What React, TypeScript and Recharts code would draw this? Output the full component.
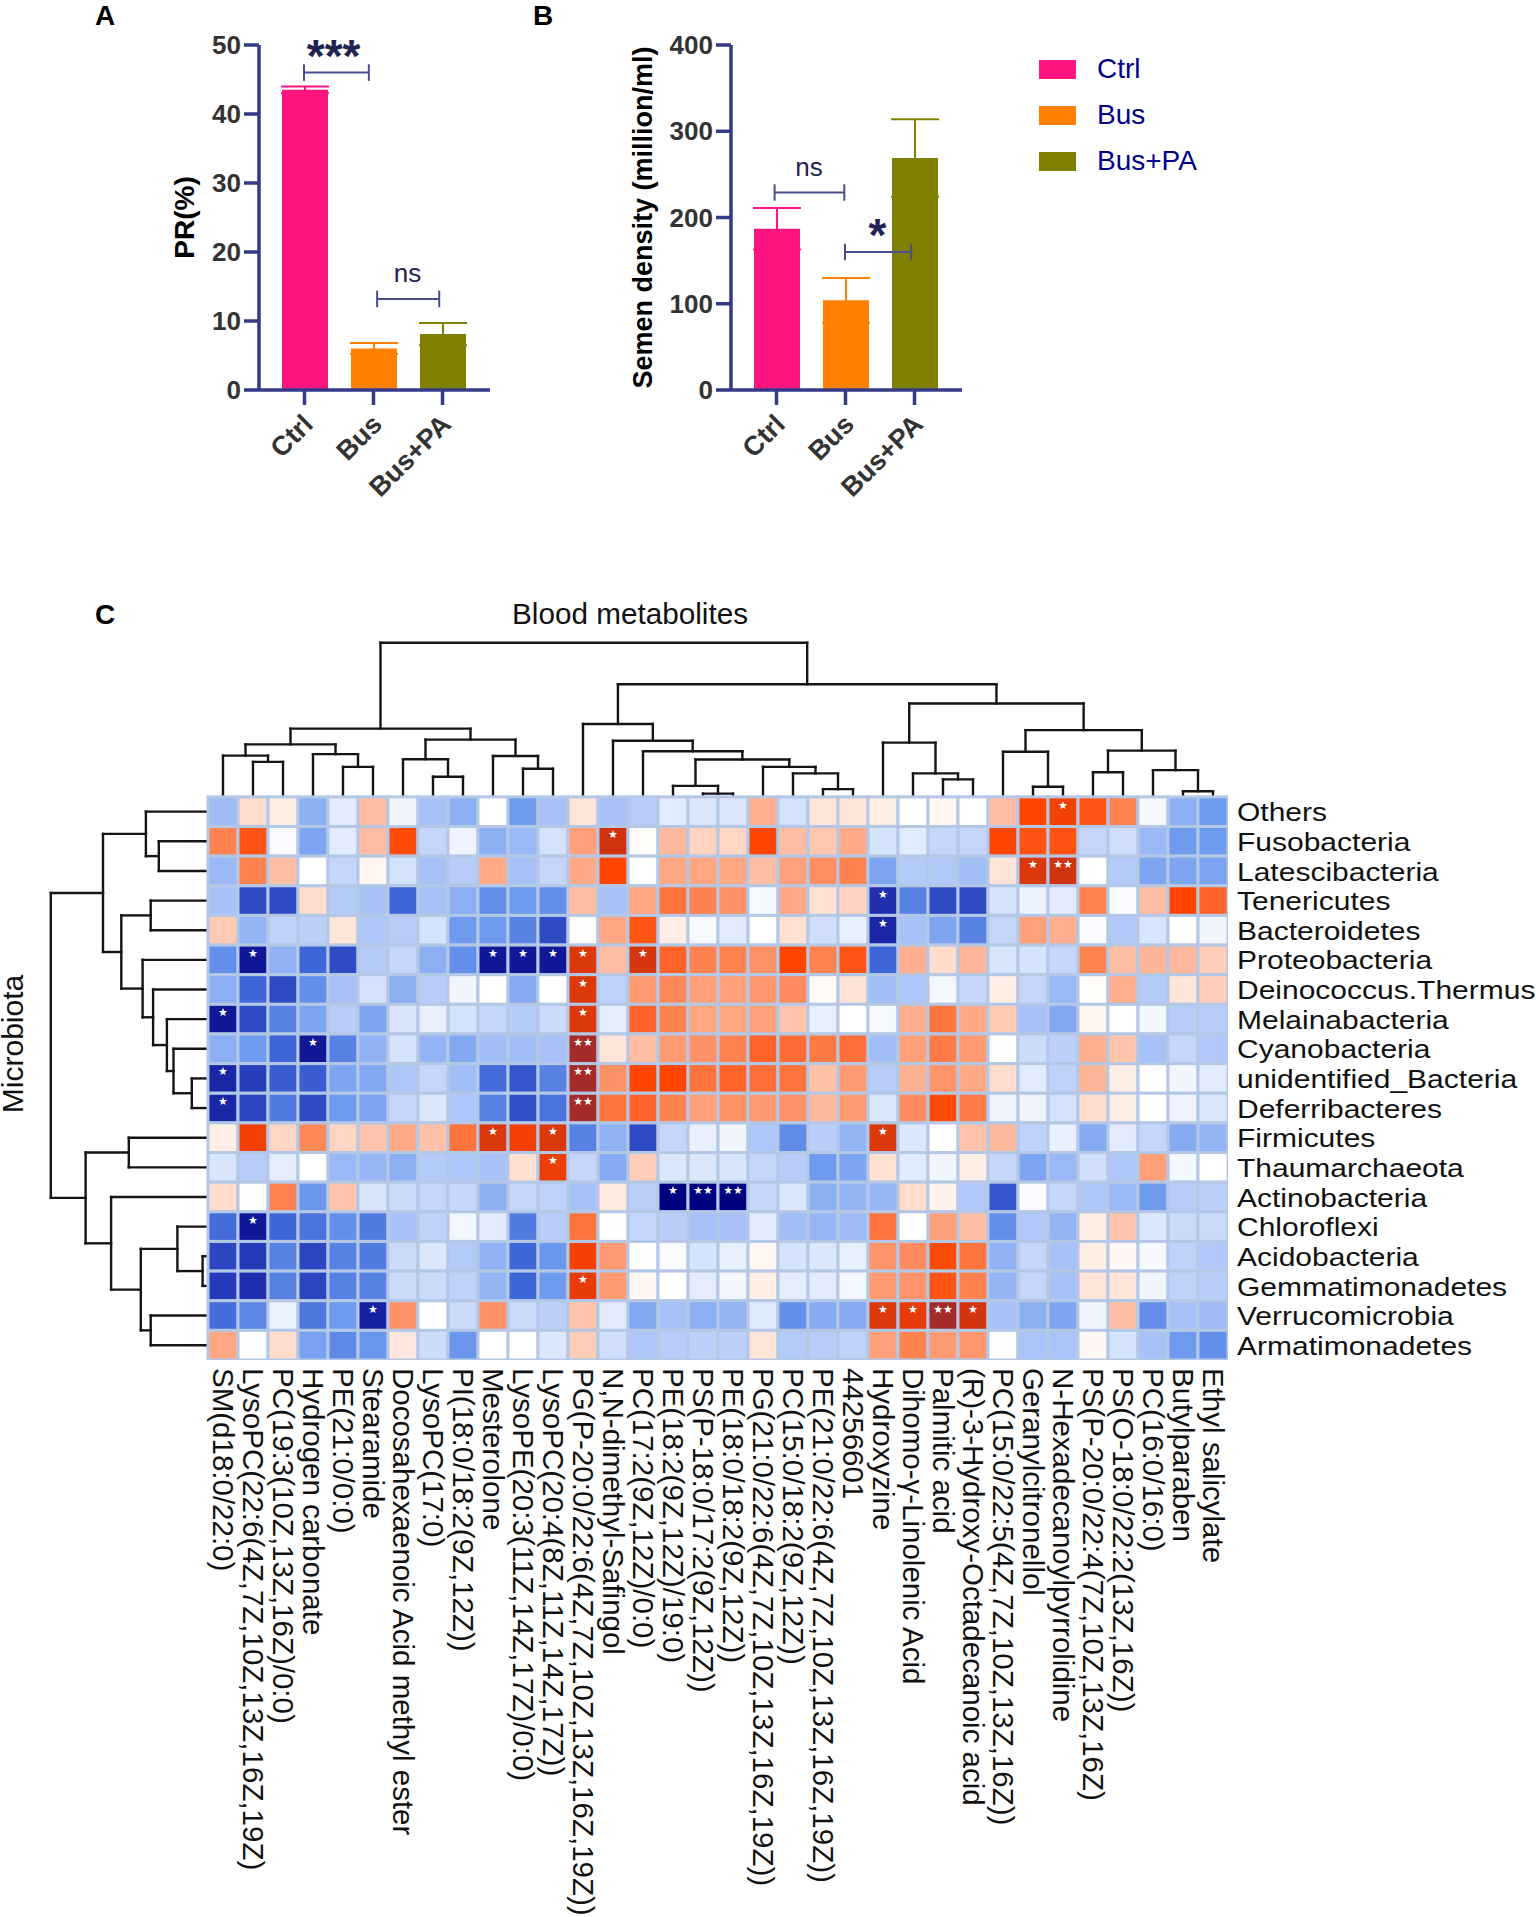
import React from "react";
import {
  Bar,
  BarChart,
  ErrorBar,
  ReferenceDot,
  ReferenceLine,
  Scatter,
  ScatterChart,
  XAxis,
  YAxis,
} from "recharts";

const FONT = '"Liberation Sans", Arial, sans-serif';
const AXIS_BLUE = "#333a88";
const BRACKET = "#4a4f8c";
const SIG_TEXT = "#1f2350";
const LABEL_GREY = "#333333";
const CTRL_COLOR = "#ff1480";
const BUS_COLOR = "#ff8000";
const PA_COLOR = "#808000";

const groups = ["Ctrl", "Bus", "Bus+PA"];
const groupColors = [CTRL_COLOR, BUS_COLOR, PA_COLOR];
const prValues = [43.5, 6, 8.1];
const prErrors = [0.5, 0.8, 1.6];
const densityValues = [187, 104, 269];
const densityErrors = [24, 26, 45];
const prTicks = [0, 10, 20, 30, 40, 50];
const densityTicks = [0, 100, 200, 300, 400];

// x in group units (0 = Ctrl, 1 = Bus, 2 = Bus+PA), y in axis units
const prBrackets = [
  { x1: 0, x2: 0.94, y: 46, cap: 1.2, text: "***", textX: 0.43, textY: 48.5, size: 46, bold: true },
  { x1: 1.06, x2: 1.96, y: 13.2, cap: 1.2, text: "ns", textX: 1.5, textY: 17, size: 26, bold: false },
];
const densityBrackets = [
  { x1: -0.02, x2: 0.99, y: 229, cap: 9.5, text: "ns", textX: 0.48, textY: 259, size: 26, bold: false },
  { x1: 1, x2: 1.96, y: 160, cap: 9.5, text: "*", textX: 1.47, textY: 180, size: 46, bold: true },
];

const rowNames = [
  "Others",
  "Fusobacteria",
  "Latescibacteria",
  "Tenericutes",
  "Bacteroidetes",
  "Proteobacteria",
  "Deinococcus.Thermus",
  "Melainabacteria",
  "Cyanobacteria",
  "unidentified_Bacteria",
  "Deferribacteres",
  "Firmicutes",
  "Thaumarchaeota",
  "Actinobacteria",
  "Chloroflexi",
  "Acidobacteria",
  "Gemmatimonadetes",
  "Verrucomicrobia",
  "Armatimonadetes",
];

const colNames = [
  "SM(d18:0/22:0)",
  "LysoPC(22:6(4Z,7Z,10Z,13Z,16Z,19Z)",
  "PC(19:3(10Z,13Z,16Z)/0:0)",
  "Hydrogen carbonate",
  "PE(21:0/0:0)",
  "Stearamide",
  "Docosahexaenoic Acid methyl ester",
  "LysoPC(17:0)",
  "PI(18:0/18:2(9Z,12Z))",
  "Mesterolone",
  "LysoPE(20:3(11Z,14Z,17Z)/0:0)",
  "LysoPC(20:4(8Z,11Z,14Z,17Z))",
  "PG(P-20:0/22:6(4Z,7Z,10Z,13Z,16Z,19Z))",
  "N,N-dimethyl-Safingol",
  "PC(17:2(9Z,12Z)/0:0)",
  "PE(18:2(9Z,12Z)/19:0)",
  "PS(P-18:0/17:2(9Z,12Z))",
  "PE(18:0/18:2(9Z,12Z))",
  "PG(21:0/22:6(4Z,7Z,10Z,13Z,16Z,19Z))",
  "PC(15:0/18:2(9Z,12Z))",
  "PE(21:0/22:6(4Z,7Z,10Z,13Z,16Z,19Z))",
  "44256601",
  "Hydroxyzine",
  "Dihomo-γ-Linolenic Acid",
  "Palmitic acid",
  "(R)-3-Hydroxy-Octadecanoic acid",
  "PC(15:0/22:5(4Z,7Z,10Z,13Z,16Z))",
  "Geranylcitronellol",
  "N-Hexadecanoylpyrrolidine",
  "PS(P-20:0/22:4(7Z,10Z,13Z,16Z)",
  "PS(O-18:0/22:2(13Z,16Z))",
  "PC(16:0/16:0)",
  "Butylparaben",
  "Ethyl salicylate",
];

// correlation, on a -10 (navy) .. 10 (brown) scale
const heatValues = [
  [-3.3, 2, 1, -4, -1, 3, -0.5, -3, -4, 0, -5, -3, 1.5, -3, -2.5, -1, -1.2, -1.2, 3.5, -1.5, 1.5, 1.5, 1, 0, 0.5, 0, 3, 7, 7.5, 6.5, 5, -0.3, -4, -5],
  [5, 6.5, -0.2, -4.5, -1, 3, 6.8, -2, -0.6, -4, -3.5, -1.5, 4, 9, 0.2, 3.2, 2.3, 2.2, 7, 3, 2.7, 3.7, -1.4, -1, -2, -2, 7, 6.5, 6.5, -2, -1.6, -3.5, -5, -5],
  [-3.5, 5, 3, 0, -2, 0.5, -1.5, -3, -2.5, 3.7, -3, -2, 3.7, 7, 0, 3.8, 3.8, 3.8, 3, 4, 4.6, 5, -4.5, -2.6, -2.7, -3.2, 1.5, 8.5, 9, 0, -2.6, -4.5, -4.5, -4.6],
  [-3, -8, -8, 2, -2.6, -3, -7, -3, -4, -5.5, -5, -5.5, 3, -3, 3.8, 5.5, 5, 4.5, -0.3, 3.7, 1.7, 2.3, -9, -6, -8, -8, -1.4, -0.7, -1, 5, -0.2, 3, 7, 6],
  [2.6, -3.7, -2.2, -2.3, 1.5, -2.8, -2.5, -1.4, -5, -5, -6, -8, 0.1, 3.8, 6.5, 1, -0.3, -1, 0, 1.8, -1.6, -0.8, -9.2, -3, -4.5, -6, -2, 4, 3.5, -0.2, -2.7, -1.3, 0, -0.5],
  [-5.5, -9.5, -3.8, -7, -8, -2.6, -2, -4, -5.5, -9.5, -9.5, -9.5, 8.5, 3, 8.7, 6, 5, 5, 4.5, 7, 5, 6.5, -7, 3.5, 2, 3.3, -1.3, -1.4, -2, 5, 3, 3.3, 3.2, 2.5],
  [-4, -7, -8, -5.5, -3, -1.5, -4, -2.5, -0.5, 0, -4.2, 0, 8.5, -2.2, 4.2, 4.8, 4, 4, 4.3, 4.7, 0.3, 1.6, -3.2, -2.8, -0.4, -2, 1, -2, -3.5, 0.2, 3.5, -2.6, 1.5, 2.5],
  [-9.5, -8, -6, -4.5, -2.5, -4.5, -1.3, -0.8, -1.5, -2, -2.6, -1.7, 8.5, -0.9, 6, 5, 3.8, 3.8, 4, 2.8, -0.8, 0, -0.3, 3.5, 5.5, 3.7, 2.6, -3, -4.3, 0.6, 0, -0.4, -2.5, -2.5],
  [-4, -5, -7, -9.5, -6, -3.8, -1.5, -3.7, -4.3, -3.2, -3.2, -3, 10, 1.5, 3, 4.2, 4.5, 5, 6, 5.7, 5.3, 5.6, -3.2, 4, 5.2, 4.2, 0.1, -1.7, -2.3, 3.5, 2.8, -3, -2, -2.7],
  [-9.2, -8.5, -7.3, -7.3, -4.5, -4.3, -2.8, -2, -3.2, -6.8, -7.6, -6, 10, 4.5, 7, 7, 5.5, 6, 5.6, 5.5, 2.9, 4.2, -2.5, 3.4, 4.4, 3.7, 2, -1, -2.2, 3.3, 1, 0, -0.5, -1],
  [-9.2, -8.2, -6.2, -8, -5, -4.5, -2, -1.2, -2.8, -6, -7.8, -6.5, 10, 5.5, 6, 5, 4, 4.5, 4.2, 4.5, 3.2, 4.2, -1.2, 4.7, 6.8, 5.2, -0.6, -0.6, -1.5, 2, 1, 0, -0.6, -1.2],
  [1, 7.5, 2.2, 4.8, 2.2, 2.8, 3.7, 2.9, 5.5, 8.5, 7.5, 8.5, -6, -3.8, -8, -2, -0.8, -0.5, -2.8, -5.6, -2.4, -3.7, 8.5, -1.2, 0, 2.8, 3.2, -2.2, -0.8, -4.2, -1, -2, -4.2, -3.7],
  [-1.3, -2.5, -0.9, 0, -3.5, -3.6, -4, -2.6, -2.8, -3, 1.8, 7.8, -2, -4.2, 2.5, -1.2, -1.2, -1.3, -2, -2.5, -5, -4.5, 1.8, -1, -0.5, 1, -2, -4.5, -3.5, -1.6, -2.8, 4, -0.4, 0],
  [2, 0, 5, -5.2, 2.8, -1.3, -1.8, -2, -2, -4, -2, -2.2, -3, 1.2, -2.3, -10, -10, -10, -2, -1.2, -4, -3.7, -3.6, 2, 0.8, -2.7, -7.6, -0.2, -2, -2.8, -3.5, -5, -2.5, -2.3],
  [-6.8, -9.5, -7, -6.5, -5.5, -6.2, -3, -2.2, -0.4, -1, -6.2, -2.5, 5.5, 0, -2, -2.4, -3, -3, -1, -3.2, -3.6, -3.4, 5.5, 0, 4, 3, -5.5, -2.7, -3.7, 1, 2.8, -1.2, -1.8, -1.8],
  [-8.2, -8.6, -6, -8.2, -6, -6.2, -1.8, -1.2, -2.6, -3.8, -7, -5.2, 7.4, 4.2, 0, -0.2, -1.4, -0.8, 0.5, -1.4, -1.2, -0.8, 4.4, 4.7, 6.8, 5.5, -3.8, -2, -3, 1, 0.4, -0.3, -2.2, -2.7],
  [-8.6, -9, -6, -8.2, -6, -6, -1.8, -1.8, -2.2, -3.7, -7, -5, 8, 4.2, 0.4, 0, -0.9, -0.4, 1, -0.9, -1, -0.4, 4.2, 4.4, 6.5, 5, -3.7, -2, -3, 1.5, 1.5, -0.5, -2.2, -2.4],
  [-6.7, -5.8, -0.7, -6.4, -5, -9.3, 4.5, 0, -1.8, 4.5, -1.8, -2.3, 2.8, -1, -4.3, -3, -4, -3.7, -1.1, -5.4, -4.2, -4.2, 8.5, 8, 10, 8.8, -3, -4, -4.5, -0.5, 3, -5.5, -3, -3.4],
  [3.8, 0, 2, -4.7, -5.7, -5.2, 1.3, -1.7, -5.2, 0, 0, -1.2, 2.5, -1.6, -2.8, -2.5, -2.3, -2.3, 1.5, -2.6, -2.5, -2.2, 4, 5, 4.2, 4.3, 0, -2.9, -2.9, 0.4, -1.4, -3, -5, -5.5],
];

// [row, col, number of stars]
const starCells = [
  [0, 28, 1], [1, 13, 1], [2, 27, 1], [2, 28, 2], [3, 22, 1], [4, 22, 1],
  [5, 1, 1], [5, 9, 1], [5, 10, 1], [5, 11, 1], [5, 12, 1], [5, 14, 1],
  [6, 12, 1], [7, 0, 1], [7, 12, 1], [8, 3, 1], [8, 12, 2], [9, 0, 1], [9, 12, 2],
  [10, 0, 1], [10, 12, 2], [11, 9, 1], [11, 11, 1], [11, 22, 1], [12, 11, 1],
  [13, 15, 1], [13, 16, 2], [13, 17, 2], [14, 1, 1], [16, 12, 1],
  [17, 5, 1], [17, 22, 1], [17, 23, 1], [17, 24, 2], [17, 25, 1],
];

// dendrogram merges: [child, child, height]; a child >= 0 is a leaf, -(k + 1) is merge k
const colMerges = [
  [1, 2, 1.18], [0, -1, 1.39], [4, 5, 1.01], [3, -3, 1.44], [-2, -4, 1.77],
  [7, 8, 0.68], [6, -6, 1.27], [10, 11, 0.95], [9, -8, 1.38], [-7, -9, 1.93],
  [-5, -10, 2.3], [16, 17, 0.11], [15, -12, 0.37], [20, 21, 0.26], [19, -14, 0.79],
  [18, -15, 1.01], [-13, -16, 1.26], [14, -17, 1.54], [13, -18, 1.89], [12, -19, 2.46],
  [24, 25, 0.59], [23, -21, 0.79], [22, -22, 1.83], [27, 28, 0.34], [26, -24, 1.52],
  [29, 30, 0.83], [32, 33, 0.19], [31, -27, 0.9], [-26, -28, 1.56], [-25, -29, 2.25],
  [-23, -30, 3.15], [-20, -31, 3.8], [-11, -32, 5.2],
];
const rowMerges = [
  [1, 2, 1.64], [0, -1, 2.07], [3, 4, 1.91], [9, 10, 0.54], [8, -4, 1.15],
  [7, -5, 1.37], [6, -6, 1.83], [5, -7, 2.18], [-3, -8, 2.89], [-2, -9, 3.5],
  [11, 12, 2.64], [15, 16, 0.18], [14, -12, 1.02], [17, 18, 1.91], [-13, -14, 2.24],
  [13, -15, 3.23], [-11, -16, 4.08], [-10, -17, 5.24],
];

const colorStops: Array<[number, number[]]> = [
  [-10, [0, 0, 128]],
  [-9, [31, 47, 176]],
  [-7, [63, 102, 216]],
  [-5, [111, 155, 238]],
  [-3, [168, 194, 248]],
  [0, [255, 255, 255]],
  [2, [255, 220, 204]],
  [4, [255, 160, 122]],
  [7, [255, 69, 0]],
  [9, [207, 51, 16]],
  [10, [165, 42, 42]],
];

function heatColor(value: number) {
  for (let i = 1; i < colorStops.length; i++) {
    const [high, highRgb] = colorStops[i];
    if (value <= high) {
      const [low, lowRgb] = colorStops[i - 1];
      const t = (value - low) / (high - low);
      const rgb = lowRgb.map((c, k) => Math.round(c + (highRgb[k] - c) * t));
      return `rgb(${rgb.join(",")})`;
    }
  }
  return "rgb(165,42,42)";
}

const heatPoints = heatValues.flatMap((cells, row) =>
  cells.map((value, col) => {
    const star = starCells.find((s) => s[0] === row && s[1] === col);
    return { col, row, value, stars: star ? star[2] : 0 };
  }),
);

// walks the merges and gives line segments as [pos1, height1, pos2, height2]
function treeSegments(merges: number[][]) {
  const nodes: Array<{ pos: number; h: number }> = [];
  const segments: number[][] = [];
  const read = (child: number) => (child >= 0 ? { pos: child, h: 0 } : nodes[-child - 1]);
  for (const [a, b, h] of merges) {
    const left = read(a);
    const right = read(b);
    segments.push([left.pos, left.h, left.pos, h]);
    segments.push([right.pos, right.h, right.pos, h]);
    segments.push([left.pos, h, right.pos, h]);
    nodes.push({ pos: (left.pos + right.pos) / 2, h });
  }
  return segments;
}

const colTree = treeSegments(colMerges);
const rowTree = treeSegments(rowMerges);

function GroupTick({ x, y, payload }: any) {
  return (
    <text
      transform={`translate(${x + 10},${y + 19}) rotate(-45)`}
      textAnchor="end"
      fontFamily={FONT}
      fontWeight="bold"
      fontSize={27}
      fill={LABEL_GREY}
    >
      {payload.value}
    </text>
  );
}

function GroupLegend() {
  return (
    <div style={{ position: "absolute", left: 1039, top: 46, fontFamily: FONT }}>
      {groups.map((name, i) => (
        <div key={name} style={{ display: "flex", alignItems: "center", height: 46 }}>
          <div style={{ width: 37, height: 19, background: groupColors[i], marginRight: 21 }} />
          <span style={{ fontSize: 28, color: "#00008b" }}>{name}</span>
        </div>
      ))}
    </div>
  );
}

function BarPanel({ left, width, values, errors, ticks, max, brackets, title, titleX, titleSize }: any) {
  const data = groups.map((name, i) => ({
    name,
    pos: i,
    ctrl: i === 0 ? values[0] : null,
    bus: i === 1 ? values[1] : null,
    pa: i === 2 ? values[2] : null,
    ctrlErr: i === 0 ? errors[0] : null,
    busErr: i === 1 ? errors[1] : null,
    paErr: i === 2 ? errors[2] : null,
  }));
  return (
    <div style={{ position: "absolute", left, top: 0 }}>
      <BarChart
        width={width}
        height={560}
        data={data}
        margin={{ top: 45, right: width - 259 - 231, bottom: 0, left: 0 }}
        barSize={46}
      >
        <XAxis
          dataKey="name"
          interval={0}
          height={170}
          padding={{ left: 11, right: 13 }}
          tick={<GroupTick />}
          tickSize={15}
          axisLine={{ stroke: AXIS_BLUE, strokeWidth: 3.5 }}
          tickLine={{ stroke: AXIS_BLUE, strokeWidth: 3.5 }}
        />
        <XAxis xAxisId="num" dataKey="pos" type="number" domain={[-0.652, 2.696]} allowDataOverflow hide />
        <YAxis
          width={259}
          domain={[0, max]}
          ticks={ticks}
          interval={0}
          tickSize={15}
          tickMargin={3}
          tick={{ fontFamily: FONT, fontWeight: "bold", fontSize: 26, fill: LABEL_GREY }}
          axisLine={{ stroke: AXIS_BLUE, strokeWidth: 3.5 }}
          tickLine={{ stroke: AXIS_BLUE, strokeWidth: 3.5 }}
          label={{
            value: title,
            angle: -90,
            position: "insideLeft",
            offset: titleX,
            textAnchor: "middle",
            style: { fontFamily: FONT, fontWeight: "bold", fontSize: titleSize, fill: "#000" },
          }}
        />
        <Bar dataKey="ctrl" stackId="g" fill={CTRL_COLOR} isAnimationActive={false}>
          <ErrorBar dataKey="ctrlErr" width={24} stroke={CTRL_COLOR} strokeWidth={2} isAnimationActive={false} />
        </Bar>
        <Bar dataKey="bus" stackId="g" fill={BUS_COLOR} isAnimationActive={false}>
          <ErrorBar dataKey="busErr" width={24} stroke={BUS_COLOR} strokeWidth={2} isAnimationActive={false} />
        </Bar>
        <Bar dataKey="pa" stackId="g" fill={PA_COLOR} isAnimationActive={false}>
          <ErrorBar dataKey="paErr" width={24} stroke={PA_COLOR} strokeWidth={2} isAnimationActive={false} />
        </Bar>
        {brackets.map((b: any) => (
          <React.Fragment key={b.text}>
            <ReferenceLine
              xAxisId="num"
              stroke={BRACKET}
              strokeWidth={2}
              segment={[{ x: b.x1, y: b.y }, { x: b.x2, y: b.y }]}
            />
            <ReferenceLine
              xAxisId="num"
              stroke={BRACKET}
              strokeWidth={2}
              segment={[{ x: b.x1, y: b.y - b.cap }, { x: b.x1, y: b.y + b.cap }]}
            />
            <ReferenceLine
              xAxisId="num"
              stroke={BRACKET}
              strokeWidth={2}
              segment={[{ x: b.x2, y: b.y - b.cap }, { x: b.x2, y: b.y + b.cap }]}
            />
            <ReferenceDot
              xAxisId="num"
              x={b.textX}
              y={b.textY}
              r={0}
              stroke="none"
              fill="none"
              label={{
                value: b.text,
                position: "center",
                style: {
                  fontFamily: FONT,
                  fontSize: b.size,
                  fontWeight: b.bold ? "bold" : "normal",
                  fill: SIG_TEXT,
                },
              }}
            />
          </React.Fragment>
        ))}
      </BarChart>
    </div>
  );
}

function HeatCell({ cx, cy, payload }: any) {
  const stars = "★".repeat(payload.stars);
  return (
    <g>
      <rect
        x={cx - 15}
        y={cy - 14.8}
        width={30}
        height={29.6}
        fill={heatColor(payload.value)}
        stroke="#b4c8e6"
        strokeWidth={3}
      />
      {stars && (
        <text
          x={cx}
          y={cy - 3}
          textAnchor="middle"
          fontFamily="DejaVu Sans"
          fontSize={11}
          fill="#ffffff"
        >
          {stars}
        </text>
      )}
    </g>
  );
}

function ColTick({ x, y, payload }: any) {
  return (
    <text
      transform={`translate(${x},${y}) rotate(90)`}
      dominantBaseline="central"
      fontFamily={FONT}
      fontSize={29.5}
      fill="#111"
    >
      {colNames[payload.value]}
    </text>
  );
}

function RowTick({ x, y, payload }: any) {
  return (
    <text
      transform={`translate(${x + 1},${y + 1}) scale(1.2,1)`}
      dominantBaseline="central"
      fontFamily={FONT}
      fontSize={25}
      fill="#111"
    >
      {rowNames[payload.value]}
    </text>
  );
}

function HeatPanel() {
  const lineProps = { stroke: "#141414", strokeWidth: 2.4, strokeLinecap: "square" as const };
  return (
    <div style={{ position: "absolute", left: 0, top: 600 }}>
      <ScatterChart width={1536} height={1317} margin={{ top: 19, right: 0, bottom: 0, left: 40 }}>
        <XAxis
          type="number"
          dataKey="col"
          domain={[-6.1, 33.5]}
          ticks={colNames.map((_, i) => i)}
          interval={0}
          height={557}
          tick={<ColTick />}
          axisLine={false}
          tickLine={false}
          allowDataOverflow
        />
        <YAxis
          type="number"
          dataKey="row"
          orientation="right"
          reversed
          domain={[-6.5, 18.5]}
          ticks={rowNames.map((_, i) => i)}
          interval={0}
          width={308}
          tick={<RowTick />}
          axisLine={false}
          tickLine={false}
          allowDataOverflow
        />
        <Scatter data={heatPoints} shape={<HeatCell />} isAnimationActive={false} />
        {colTree.map(([p1, h1, p2, h2], i) => (
          <ReferenceLine
            key={`c${i}`}
            {...lineProps}
            segment={[{ x: p1, y: -0.5 - h1 }, { x: p2, y: -0.5 - h2 }]}
          />
        ))}
        {rowTree.map(([p1, h1, p2, h2], i) => (
          <ReferenceLine
            key={`r${i}`}
            {...lineProps}
            segment={[{ x: -0.5 - h1, y: p1 }, { x: -0.5 - h2, y: p2 }]}
          />
        ))}
      </ScatterChart>
    </div>
  );
}

const panelLetter: React.CSSProperties = {
  position: "absolute",
  fontFamily: FONT,
  fontWeight: "bold",
  fontSize: 28,
  lineHeight: "28px",
  color: "#000",
};

export default function App() {
  return (
    <div style={{ position: "absolute", left: 0, top: 0, width: 1536, height: 1917, background: "#fff", overflow: "hidden" }}>
      <BarPanel
        left={0}
        width={560}
        values={prValues}
        errors={prErrors}
        ticks={prTicks}
        max={50}
        brackets={prBrackets}
        title="PR(%)"
        titleX={184}
        titleSize={28}
      />
      <BarPanel
        left={472}
        width={600}
        values={densityValues}
        errors={densityErrors}
        ticks={densityTicks}
        max={400}
        brackets={densityBrackets}
        title="Semen density (million/ml)"
        titleX={170}
        titleSize={27}
      />
      <GroupLegend />
      <HeatPanel />
      <div style={{ ...panelLetter, left: 95, top: 2 }}>A</div>
      <div style={{ ...panelLetter, left: 533, top: 2 }}>B</div>
      <div style={{ ...panelLetter, left: 95, top: 601 }}>C</div>
      <div style={{ position: "absolute", left: 512, top: 597, fontFamily: FONT, fontSize: 29.7, color: "#111", whiteSpace: "nowrap" }}>
        Blood metabolites
      </div>
      <div
        style={{
          position: "absolute",
          left: 13,
          top: 1044,
          fontFamily: FONT,
          fontSize: 30,
          lineHeight: "26px",
          color: "#111",
          whiteSpace: "nowrap",
          transform: "translate(-50%,-50%) rotate(-90deg)",
        }}
      >
        Microbiota
      </div>
    </div>
  );
}
